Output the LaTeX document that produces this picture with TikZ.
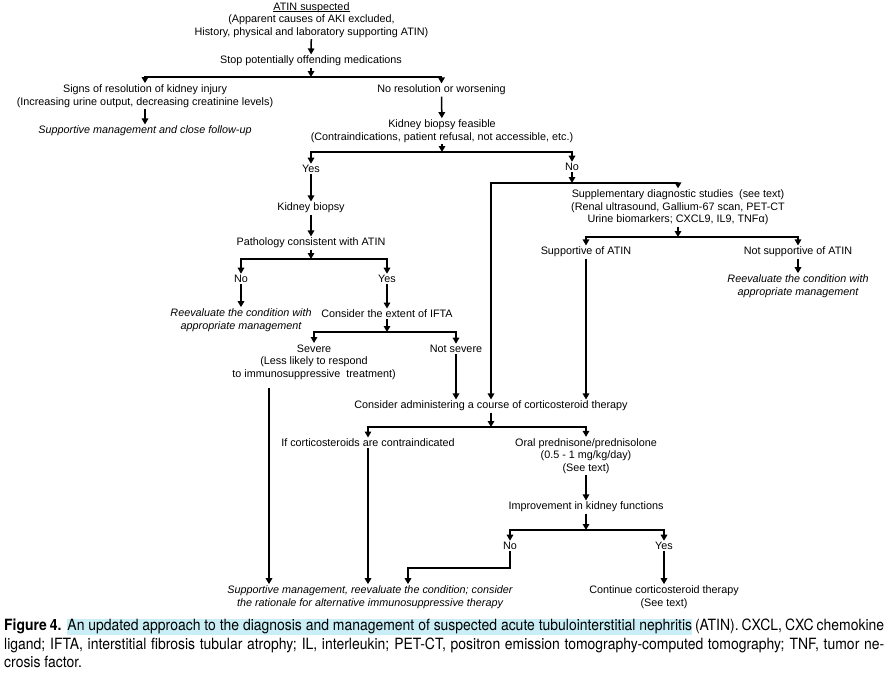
\documentclass[tikz,border=0pt]{standalone}
\usepackage{fontspec}
\setmainfont{Liberation Sans}
\newfontfamily\capfont[FakeStretch=0.9]{TeX Gyre Heros}
\usetikzlibrary{arrows.meta,calc}
\definecolor{hl}{HTML}{C9EEF6}
\newcommand\ulintext[1]{\setbox0\hbox{#1}\rlap{\rule[-2pt]{\wd0}{0.8pt}}\box0}
\begin{document}
\begin{tikzpicture}[x=1pt,y=-1pt,
  txt/.style={inner sep=0pt,outer sep=1.5pt,align=center,font=\fontsize{10.8}{12.6}\selectfont},
  itx/.style={txt,font=\fontsize{10.8}{12.6}\selectfont\itshape},
  arr/.style={line width=1.5pt,-{Triangle[width=6.5pt,length=6pt]}},
  brr/.style={line width=1.5pt,{Triangle[width=6.5pt,length=6pt]}-{Triangle[width=6.5pt,length=6pt]}},
  ]
\fill[white] (0,0) rectangle (888,673);
\useasboundingbox (0,0) rectangle (888,673);

% ---- nodes ----
\node[txt] (atin) at (311.5,20) {\ulintext{ATIN suspected}\\(Apparent causes of AKI excluded,\\History, physical and laboratory supporting ATIN)};
\node[txt] (stop) at (311,61) {Stop potentially offending medications};
\node[txt] (signs) at (145,96) {Signs of resolution of kidney injury\\(Increasing urine output, decreasing creatinine levels)};
\node[itx] (supp1) at (145,131) {Supportive management and close follow-up};
\node[txt] (nores) at (441.5,90) {No resolution or worsening};
\node[txt] (feas) at (442,131) {Kidney biopsy feasible\\(Contraindications, patient refusal, not accessible, etc.)};
\node[txt] (yes1) at (311,169) {Yes};
\node[txt] (no1) at (572,167) {No};
\node[txt] (kb) at (311,208) {Kidney biopsy};
\node[txt] (path) at (311,243) {Pathology consistent with ATIN};
\node[txt] (no2) at (241,279) {No};
\node[txt] (yes2) at (387,279) {Yes};
\node[itx] (reev1) at (241,320) {Reevaluate the condition with\\appropriate management};
\node[txt] (ifta) at (387,314) {Consider the extent of IFTA};
\node[txt] (severe) at (314,362) {Severe\\(Less likely to respond\\to immunosuppressive\ \ treatment)};
\node[txt] (notsev) at (456,349) {Not severe};
\node[txt] (supdx) at (678,207.5) {Supplementary diagnostic studies\ \ (see text)\\(Renal ultrasound, Gallium-67 scan, PET-CT\\Urine biomarkers; CXCL9, IL9, TNFα)};
\node[txt] (supatin) at (586,252) {Supportive of ATIN};
\node[txt] (notsup) at (798,252) {Not supportive of ATIN};
\node[itx] (reev2) at (798,286) {Reevaluate the condition with\\appropriate management};
\node[txt] (cons) at (491,406) {Consider administering a course of corticosteroid therapy};
\node[txt] (contra) at (368,443) {If corticosteroids are contraindicated};
\node[txt] (oral) at (586,456) {Oral prednisone/prednisolone\\(0.5 - 1 mg/kg/day)\\(See text)};
\node[txt] (impr) at (586,507) {Improvement in kidney functions};
\node[txt] (no3) at (510,546) {No};
\node[txt] (yes3) at (664,546) {Yes};
\node[itx] (suppfin) at (370,597) {Supportive management, reevaluate the condition; consider\\the rationale for alternative immunosuppressive therapy};
\node[txt] (cont) at (664,597) {Continue corticosteroid therapy\\(See text)};

% ---- bar coordinates ----
\coordinate (b1) at (0,77);
\coordinate (b2) at (0,152);
\coordinate (b3) at (0,183);
\coordinate (b4) at (0,237);
\coordinate (b5) at (0,259);
\coordinate (b6) at (0,332);
\coordinate (b7) at (0,427);
\coordinate (b8) at (0,530);
\coordinate (sv) at (269,388);
\coordinate (el) at (408,568);

% ---- connectors ----
\draw[arr] (atin) -- (stop);
\draw[arr] (stop.south) -- (stop |- b1);
\draw[brr] (signs.north) |- (nores |- b1) -- (nores.north);
\draw[arr] (signs) -- (supp1);
\draw[arr] (nores) -- (feas);
\draw[arr] (feas.south) -- (feas |- b2);
\draw[brr] (yes1.north) |- (no1 |- b2) -- (no1.north);
\draw[arr] (yes1) -- (kb);
\draw[arr] (kb) -- (path);
\draw[arr] (path.south) -- (path |- b5);
\draw[brr] (no2.north) |- (yes2 |- b5) -- (yes2.north);
\draw[arr] (no2) -- (reev1);
\draw[arr] (yes2) -- (ifta);
\draw[arr] (ifta.south) -- (ifta |- b6);
\draw[brr] (severe.north) |- (notsev |- b6) -- (notsev.north);
\draw[arr] (notsev.south) -- (notsev |- cons.north);
\draw[arr] (sv) -- (sv |- suppfin.north);
\draw[arr] (no1.south) -- (no1 |- b3);
\draw[brr] (cons.north) |- (supdx |- b3) -- (supdx.north);
\draw[arr] (supdx.south) -- (supdx |- b4);
\draw[brr] (supatin.north) |- (notsup |- b4) -- (notsup.north);
\draw[arr] (notsup) -- (reev2);
\draw[arr] (supatin.south) -- (supatin |- cons.north);
\draw[arr] (cons.south) -- (cons |- b7);
\draw[brr] (contra.north) |- (oral |- b7) -- (oral.north);
\draw[arr] (contra.south) -- (contra |- suppfin.north);
\draw[arr] (oral) -- (impr);
\draw[arr] (impr.south) -- (impr |- b8);
\draw[brr] (no3.north) |- (yes3 |- b8) -- (yes3.north);
\draw[arr] (no3.south) |- (el) -- (el |- suppfin.north);
\draw[arr] (yes3) -- (cont);

% ---- caption ----
\node[anchor=north west, inner sep=0pt, text width=880pt, align=justify,
  font=\capfont\fontsize{15.5}{18.5}\selectfont] (cap) at (4,619)
  {\textbf{Figure 4.}\ \ {\setlength{\fboxsep}{0pt}\colorbox{hl}{\rule[-4.5pt]{0pt}{15pt}An updated approach to the diagnosis and management of suspected acute tubulointerstitial nephritis}} (ATIN). CXCL, CXC chemokine\linebreak
  ligand; IFTA, interstitial fibrosis tubular atrophy; IL, interleukin; PET-CT, positron emission tomography-computed tomography; TNF, tumor ne-\linebreak
  crosis factor.};
\end{tikzpicture}
\end{document}
